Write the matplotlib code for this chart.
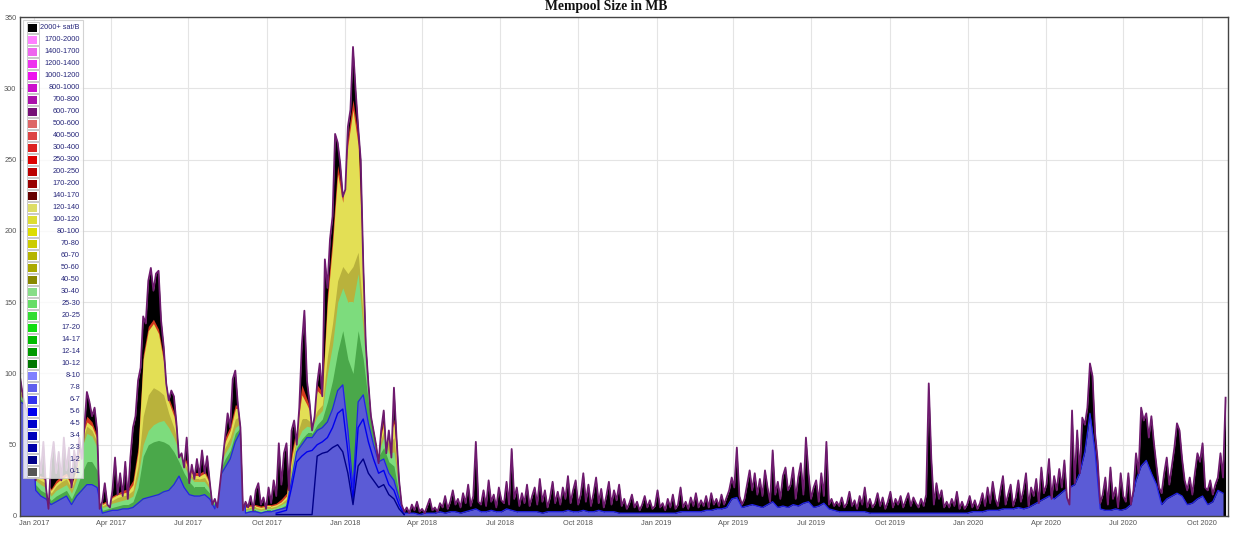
import numpy as np
import matplotlib
matplotlib.use("Agg")
import matplotlib.pyplot as plt
import matplotlib.dates as mdates
from matplotlib.patches import Rectangle

plt.rcParams['font.family'] = ['Liberation Sans', 'DejaVu Sans']

# ---------------- data ----------------
fee_bins = ['2000+ sat/B', '1700-2000', '1400-1700', '1200-1400', '1000-1200', '800-1000',
            '700-800', '600-700', '500-600', '400-500', '300-400', '250-300', '200-250',
            '170-200', '140-170', '120-140', '100-120', '80-100', '70-80', '60-70', '50-60',
            '40-50', '30-40', '25-30', '20-25', '17-20', '14-17', '12-14', '10-12', '8-10',
            '7-8', '6-7', '5-6', '4-5', '3-4', '2-3', '1-2', '0-1']
bin_colors = ['#000000', '#ff80ff', '#ee66ee', '#ee33ee', '#ee11ee', '#cc11cc',
              '#aa11aa', '#771177', '#dd6666', '#dd4444', '#dd2222', '#dd0000', '#bb0000',
              '#990000', '#660000', '#dddd66', '#dddd33', '#dddd00', '#cccc00', '#b5b500', '#aaaa00',
              '#888800', '#88dd88', '#66dd66', '#33dd33', '#11dd11', '#00bb00', '#009900', '#007700', '#8080ff',
              '#6060ee', '#3333ee', '#0000ee', '#0000cc', '#0000bb', '#0000aa', '#000088', '#555555']

start_date = '2016-12-16'
total_step_days = 3
band_step_days = 6

# total mempool size (top of the stack), MB, every 3 days
total_mb = [
    96, 84, 76, 72, 70, 62, 25, 48, 30, 52, 20, 5, 38, 52, 30, 45, 25, 55, 32, 48,
    20, 46, 35, 55, 40, 62, 87, 80, 70, 76, 60, 5, 10, 23, 8, 6, 18, 41, 15, 30,
    14, 38, 12, 41, 62, 70, 95, 104, 140, 135, 165, 174, 158, 170, 172, 137, 119, 93, 81, 88,
    84, 65, 41, 44, 34, 55, 23, 36, 26, 40, 28, 46, 30, 42, 24, 8, 12, 6, 22, 38,
    55, 72, 62, 96, 102, 78, 62, 4, 10, 6, 14, 4, 18, 23, 8, 13, 5, 20, 9, 25,
    14, 51, 22, 44, 51, 18, 60, 67, 50, 76, 120, 144, 95, 80, 60, 70, 93, 107, 84, 180,
    160, 194, 210, 268, 262, 247, 224, 229, 273, 285, 329, 299, 273, 250, 177, 120, 93, 70, 60, 50,
    37, 60, 74, 44, 60, 41, 90, 55, 25, 8, 3, 6, 2, 8, 4, 10, 3, 5, 2, 7,
    12, 4, 6, 3, 9, 6, 14, 5, 10, 18, 8, 12, 6, 16, 9, 22, 7, 14, 52, 10,
    8, 18, 7, 25, 10, 15, 6, 20, 11, 9, 24, 8, 47, 12, 20, 7, 16, 9, 22, 7,
    14, 20, 8, 26, 10, 18, 6, 13, 24, 9, 17, 8, 20, 12, 28, 9, 18, 25, 8, 15,
    30, 10, 22, 7, 16, 27, 9, 19, 6, 14, 24, 8, 18, 11, 22, 7, 12, 5, 9, 15,
    6, 10, 4, 8, 14, 6, 11, 5, 7, 18, 6, 9, 4, 12, 6, 15, 5, 8, 20, 6,
    10, 5, 13, 7, 16, 6, 11, 7, 14, 6, 16, 8, 12, 7, 15, 8, 13, 18, 27, 20,
    48, 14, 8, 12, 22, 32, 18, 30, 15, 26, 14, 32, 20, 10, 46, 15, 24, 12, 28, 34,
    18, 22, 34, 12, 27, 37, 15, 55, 30, 12, 20, 25, 10, 30, 14, 52, 8, 12, 7, 10,
    7, 13, 6, 9, 17, 7, 11, 5, 14, 8, 20, 6, 12, 6, 9, 16, 7, 13, 5, 10,
    17, 6, 12, 8, 14, 6, 11, 16, 7, 13, 9, 6, 12, 7, 15, 93, 40, 8, 23, 12,
    18, 6, 10, 6, 12, 7, 17, 5, 10, 5, 8, 14, 6, 11, 5, 9, 16, 7, 20, 9,
    24, 12, 7, 18, 28, 8, 15, 22, 7, 13, 25, 10, 18, 30, 7, 20, 14, 26, 9, 34,
    16, 22, 40, 12, 28, 18, 33, 20, 39, 13, 8, 74, 23, 60, 30, 69, 64, 76, 107, 98,
    58, 39, 9, 15, 27, 8, 34, 12, 20, 6, 30, 14, 10, 30, 8, 18, 44, 30, 76, 67,
    72, 55, 70, 51, 35, 20, 16, 30, 41, 22, 35, 48, 65, 60, 40, 25, 18, 27, 15, 30,
    44, 38, 51, 20, 18, 25, 15, 22, 27, 44, 27, 83]

# cumulative top of the 0-10 sat/B (blue) layers, MB, every 6 days
blue_top = [
    80, 78, 75, 18, 14, 12, 8, 10, 12, 14, 8, 14, 18, 22, 22, 20, 2, 3, 4, 4,
    5, 5, 6, 9, 12, 13, 14, 15, 17, 18, 22, 28, 20, 15, 14, 14, 15, 12, 5, 28,
    34, 40, 52, 59, 2, 3, 3, 2, 3, 3, 4, 5, 6, 25, 45, 50, 55, 55, 60, 62,
    66, 75, 88, 92, 60, 20, 80, 85, 65, 50, 38, 40, 30, 25, 12, 2, 2, 2, 1, 2,
    2, 2, 3, 2, 3, 3, 2, 3, 4, 5, 3, 3, 4, 3, 3, 5, 4, 3, 3, 3,
    3, 3, 2, 3, 3, 3, 3, 4, 3, 3, 4, 3, 3, 4, 3, 3, 3, 2, 2, 2,
    2, 2, 2, 2, 2, 2, 2, 2, 2, 3, 3, 3, 3, 3, 4, 4, 5, 5, 6, 12,
    13, 6, 7, 8, 7, 6, 8, 10, 6, 7, 6, 8, 7, 9, 10, 6, 7, 9, 5, 4,
    3, 3, 3, 3, 3, 3, 2, 2, 2, 2, 2, 2, 2, 2, 2, 2, 2, 2, 2, 2,
    2, 2, 2, 2, 2, 2, 3, 3, 3, 4, 4, 4, 5, 5, 5, 6, 5, 6, 8, 10,
    12, 14, 12, 15, 18, 20, 22, 30, 45, 72, 45, 5, 4, 4, 5, 4, 5, 8, 25, 35,
    39, 30, 22, 8, 12, 14, 16, 14, 8, 9, 12, 14, 8, 10, 18, 16]

# cumulative tops of the higher fee groups until Apr 2018, MB, every 6 days
green_dark_top = [
    82, 80, 77, 22, 18, 16, 11, 14, 16, 18, 12, 20, 30, 38, 38, 32, 4, 5, 6, 7,
    8, 8, 10, 20, 42, 50, 52, 53, 52, 50, 45, 38, 30, 24, 20, 20, 20, 16, 7, 32,
    40, 46, 58, 62, 3, 4, 4, 3, 4, 4, 5, 6, 8, 28, 48, 54, 58, 58, 64, 68,
    80, 95, 115, 130, 110, 100, 130, 110, 80, 58, 42, 48, 38, 35, 15, 2]
green_light_top = [
    84, 82, 79, 25, 22, 20, 14, 18, 20, 22, 16, 26, 48, 58, 56, 48, 6, 7, 9, 10,
    11, 12, 14, 28, 50, 60, 64, 66, 67, 62, 55, 45, 35, 28, 24, 24, 24, 19, 9, 35,
    44, 50, 62, 65, 4, 5, 5, 4, 5, 5, 6, 8, 10, 32, 52, 60, 63, 62, 70, 74,
    100, 120, 150, 160, 150, 150, 170, 130, 88, 62, 45, 55, 44, 45, 18, 3]
olive_top = [
    86, 84, 81, 27, 25, 23, 16, 21, 24, 26, 19, 30, 52, 63, 60, 52, 7, 9, 11, 13,
    14, 15, 18, 35, 70, 85, 90, 88, 85, 72, 62, 48, 38, 30, 26, 26, 27, 21, 10, 37,
    48, 55, 68, 70, 5, 6, 6, 5, 6, 6, 7, 9, 12, 36, 56, 68, 68, 65, 74, 78,
    112, 135, 165, 175, 170, 175, 185, 140, 92, 64, 47, 60, 50, 55, 20, 3]
yellow_top = [
    88, 85, 82, 29, 27, 25, 18, 23, 26, 28, 21, 33, 55, 66, 63, 54, 8, 10, 13, 15,
    16, 17, 22, 45, 110, 130, 135, 128, 108, 80, 70, 50, 40, 32, 28, 28, 30, 23, 11, 38,
    52, 60, 75, 75, 6, 7, 7, 6, 7, 7, 8, 10, 14, 40, 60, 85, 78, 70, 88, 84,
    150, 190, 240, 220, 260, 285, 260, 170, 98, 66, 48, 65, 55, 65, 22, 3]
red_top = [
    90, 86, 83, 30, 28, 27, 19, 25, 28, 30, 22, 35, 58, 70, 66, 56, 9, 11, 14, 16,
    18, 19, 25, 48, 113, 133, 138, 131, 111, 83, 73, 52, 42, 34, 30, 30, 32, 24, 12, 40,
    55, 63, 78, 77, 7, 8, 8, 7, 8, 8, 9, 12, 16, 44, 63, 92, 82, 72, 92, 87,
    156, 196, 246, 226, 266, 292, 266, 174, 100, 68, 50, 68, 57, 68, 24, 4]

# low-fee layer boundaries, Oct 2017 - Apr 2018 (6-day steps from band index 50)
late2017_first_index = 50
top_0_2 = [1, 1, 1, 1, 1, 1, 1, 1, 42, 44, 45, 48, 50, 45, 30, 8, 35, 40, 30, 25,
           20, 22, 15, 12, 5, 1]
top_0_6 = [2, 3, 4, 20, 38, 42, 45, 46, 50, 52, 55, 62, 72, 75, 45, 12, 62, 68, 52, 40,
           30, 32, 22, 18, 8, 1]

# ---------------- figure ----------------
W, H = 1236, 540
fig = plt.figure(figsize=(W / 100, H / 100), dpi=100)
ax = fig.add_axes([20 / W, 1 - 516 / H, (1228 - 20) / W, (516 - 17) / H])

t0 = np.datetime64(start_date)
t_total = t0 + np.arange(len(total_mb)) * np.timedelta64(total_step_days, 'D')
t_band = t0 + np.arange(len(blue_top)) * np.timedelta64(band_step_days, 'D')
t_col = t_band[:len(red_top)]
t_late = t_band[late2017_first_index:late2017_first_index + len(top_0_2)]

base = ax.fill_between(t_total, 0, total_mb, color='#000000', lw=0, zorder=2)
clip = base.get_paths()[0]

layers = [
    (red_top, '#d23a1e'),
    (yellow_top, '#e3df55'),
    (olive_top, '#b9b23c'),
    (green_light_top, '#7ddc7d'),
    (green_dark_top, '#4aa84a'),
]
for vals, col in layers:
    c = ax.fill_between(t_col, 0, vals, color=col, lw=0, zorder=3)
    c.set_clip_path(clip, ax.transData)

cb = ax.fill_between(t_band, 0, blue_top, color='#5b5bd6', lw=0, zorder=4)
cb.set_clip_path(clip, ax.transData)
for x, y, col, lw in [(t_band, blue_top, '#2323e6', 0.9),
                      (t_late, top_0_6, '#0000ee', 1.0),
                      (t_late, top_0_2, '#000088', 1.0)]:
    ln, = ax.plot(x, y, color=col, lw=lw, zorder=5)
    ln.set_clip_path(clip, ax.transData)

ax.plot(t_total, total_mb, color='#6e1a6e', lw=1.3, zorder=6)

ax.set_xlim(np.datetime64('2016-12-15T14'), np.datetime64('2020-10-31T20'))
ax.set_ylim(0, 350)
ax.set_yticks(np.arange(0, 351, 50))
ax.xaxis.set_major_locator(mdates.MonthLocator(bymonth=[1, 4, 7, 10]))
ax.xaxis.set_major_formatter(mdates.DateFormatter('%b %Y'))
ax.tick_params(length=0, labelsize=5.3, colors='#555555')
ax.tick_params(axis='y', pad=2.5)
ax.tick_params(axis='x', pad=3)
ax.grid(True, color='#e4e4e4', lw=0.8)
ax.set_axisbelow(True)
for s in ax.spines.values():
    s.set_color('#444444')
    s.set_linewidth(1.0)
    s.set_zorder(7)

fig.text(606 / W, 1 - 6.5 / H, 'Mempool Size in MB', ha='center', va='center',
         family=['Liberation Serif', 'DejaVu Serif'], weight='bold', fontsize=9.8, color='#111111')

# ---------------- legend ----------------
def fx(px):
    return px / W

def fy(py):
    return 1 - py / H

fig.add_artist(Rectangle((fx(23), fy(478)), fx(83) - fx(23), fy(20) - fy(478),
                         transform=fig.transFigure, facecolor='white', alpha=0.8,
                         edgecolor='#c8c8c8', lw=0.8, zorder=10))
for k, (lab, col) in enumerate(zip(fee_bins, bin_colors)):
    yc = 27.7 + 12.0 * k
    fig.add_artist(Rectangle((fx(26.5), fy(yc + 5.5)), fx(38.5) - fx(26.5), fy(yc - 5.5) - fy(yc + 5.5),
                             transform=fig.transFigure, facecolor='white',
                             edgecolor='#c0c0c0', lw=0.6, zorder=11))
    fig.add_artist(Rectangle((fx(28), fy(yc + 4)), fx(37) - fx(28), fy(yc - 4) - fy(yc + 4),
                             transform=fig.transFigure, facecolor=col, lw=0, zorder=12))
    fig.text(fx(80), fy(yc), lab, ha='right', va='center', fontsize=5.3,
             color='#26267a', zorder=13)

fig.savefig('out.png', dpi=100)
